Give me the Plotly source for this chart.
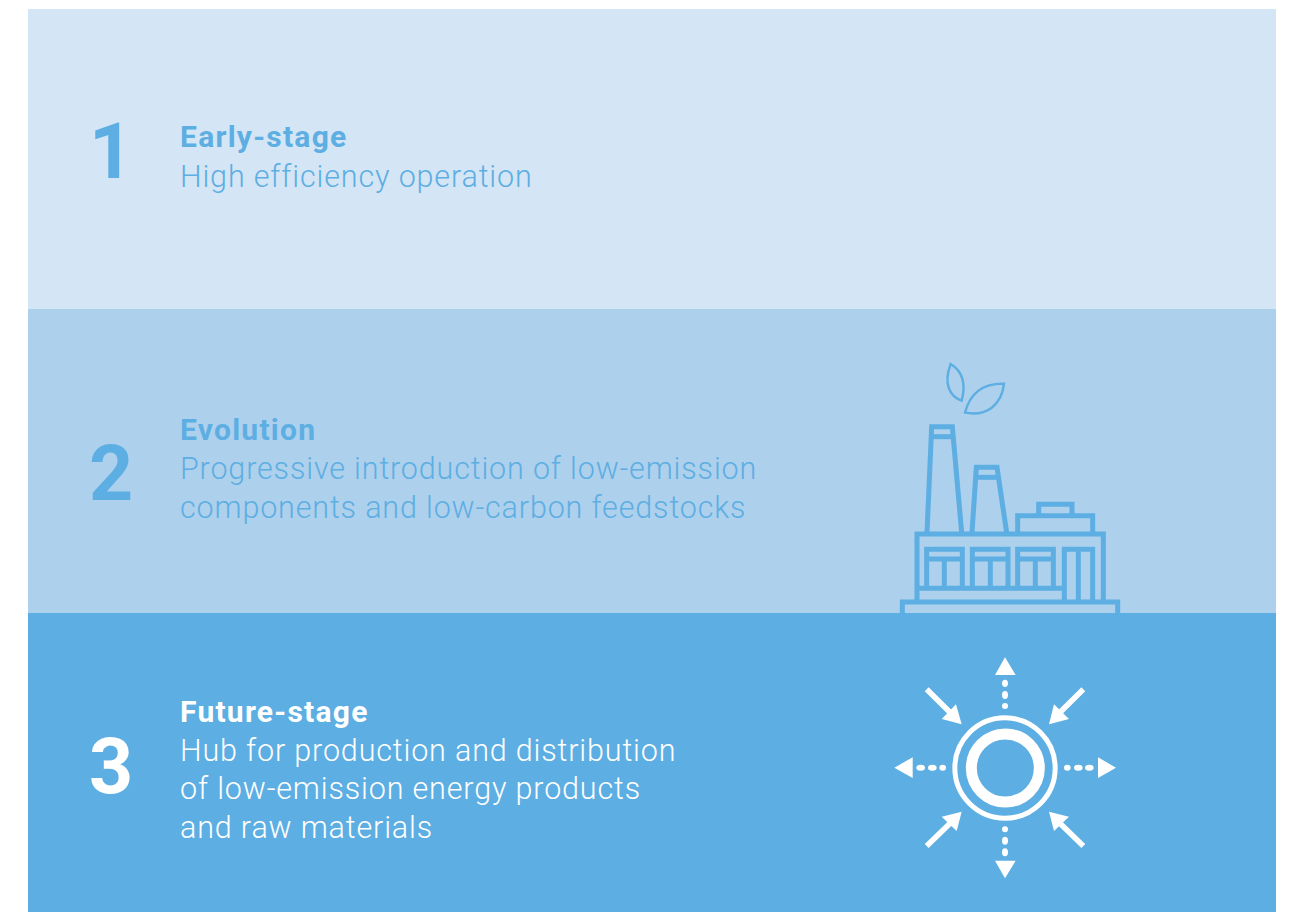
import plotly.graph_objects as go

# ---- content ----
stage_numbers = ["1", "2", "3"]
stage_titles = ["Early-stage", "Evolution", "Future-stage"]
stage_lines = [
    ["High efficiency operation"],
    ["Progressive introduction of low-emission", "components and low-carbon feedstocks"],
    ["Hub for production and distribution", "of low-emission energy products", "and raw materials"],
]

# ---- layout / style ----
BAND_COLORS = ["#D4E5F6", "#ADD0ED", "#5DAEE2"]
INK = ["#5DAEE2", "#5DAEE2", "#FFFFFF"]
BANDS_Y = [(9, 309), (309, 613), (613, 912)]
NUM_Y = [152, 474, 767]
TITLE_Y = [136, 429, 711]
LINE_Y = [[176], [468, 507], [750, 788, 827]]
FONT = "Roboto"

shapes = []
WHITE = "#FFFFFF"
BLUE = "#5DAEE2"


def rect(y0, y1, color):
    shapes.append(dict(type="rect", xref="x", yref="y", x0=28, x1=1276, y0=y0, y1=y1,
                       fillcolor=color, line=dict(width=0), layer="below"))


def f(p):  # factory icon crop -> figure coordinates
    return (880 + p[0] / 3, 350 + p[1] / 3)


def s(p):  # sun icon crop -> figure coordinates
    return (880 + p[0] / 3, 645 + p[1] / 3)


def poly(points, conv, color=None, width=5, fill=None, close=False):
    pts = [conv(p) for p in points]
    d = "M" + " L".join(f"{x:.2f},{y:.2f}" for x, y in pts) + (" Z" if close else "")
    shapes.append(dict(type="path", xref="x", yref="y", path=d,
                       line=dict(color=color, width=width) if color else dict(width=0),
                       fillcolor=fill if fill else "rgba(0,0,0,0)"))


def curve(points, conv, color, width):
    # M p0 C p1 p2 p3 C p4 p5 p6 ... Z
    pts = [conv(p) for p in points]
    d = f"M{pts[0][0]:.2f},{pts[0][1]:.2f}"
    for i in range(1, len(pts), 3):
        d += " C" + " ".join(f"{x:.2f},{y:.2f}" for x, y in pts[i:i + 3])
    shapes.append(dict(type="path", xref="x", yref="y", path=d + " Z",
                       line=dict(color=color, width=width), fillcolor="rgba(0,0,0,0)"))


def ellipse(c, w, h, conv, fill=None, line=None, lw=0):
    x, y = conv(c)
    w, h = w / 3, h / 3
    shapes.append(dict(type="circle", xref="x", yref="y", x0=x - w / 2, x1=x + w / 2,
                       y0=y - h / 2, y1=y + h / 2,
                       fillcolor=fill if fill else "rgba(0,0,0,0)",
                       line=dict(color=line, width=lw) if line else dict(width=0)))


rect(*BANDS_Y[0], BAND_COLORS[0])
rect(*BANDS_Y[1], BAND_COLORS[1])

# factory
for line in [
    [(141, 548), (155, 230), (217, 230), (245, 548)],
    [(155, 260), (217, 260)],
    [(276, 548), (289, 352), (351, 352), (380, 548)],
    [(292, 382), (352, 382)],
    [(413, 548), (413, 497), (638, 497), (638, 548)],
    [(476, 497), (476, 463), (576, 463), (576, 497)],
    [(111, 755), (111, 552), (670, 552), (670, 755)],
    [(111, 715), (553, 715)],
    [(553, 755), (553, 598), (638, 598), (638, 755)],
    [(595, 598), (595, 755)],
    [(67, 795), (67, 756), (713, 756), (713, 795)],
]:
    poly(line, f, BLUE)
for x0, xm, x1 in [(140, 193, 247), (277, 331, 384), (413, 466, 520)]:
    poly([(x0, 715), (x0, 598), (x1, 598), (x1, 715)], f, BLUE)
    poly([(x0, 627), (x1, 627)], f, BLUE)
    poly([(xm, 627), (xm, 715)], f, BLUE)
curve([(212, 42), (238, 58), (262, 88), (245, 152), (212, 140), (188, 105), (212, 42)], f, BLUE, 2.4)
curve([(372, 101), (310, 100), (270, 130), (255, 188), (320, 200), (365, 165), (372, 101)], f, BLUE, 2.4)

rect(*BANDS_Y[2], BAND_COLORS[2])

# hub icon
ellipse((375, 369), 301, 301, s, line=WHITE, lw=5)
ellipse((376, 369), 204, 204, s, line=WHITE, lw=11)
for tri in [
    [(375, 37), (345, 90), (407, 90)],
    [(375, 700), (345, 647), (407, 647)],
    [(43, 368), (98, 337), (98, 399)],
    [(708, 368), (654, 337), (654, 399)],
    [(245, 238), (185, 222), (228, 178)],
    [(507, 238), (567, 222), (522, 178)],
    [(245, 500), (185, 515), (230, 558)],
    [(507, 500), (567, 515), (522, 558)],
]:
    poly(tri, s, fill=WHITE, close=True)
for shaft in [
    [(140, 133), (215, 207)], [(610, 133), (535, 207)],
    [(140, 603), (215, 530)], [(610, 603), (535, 530)],
]:
    poly(shaft, s, WHITE, 5.5)
for y, h in [(115, 22), (150, 24), (183, 18)]:
    ellipse((375, y), 18, h, s, fill=WHITE)
for y, h in [(553, 18), (587, 24), (622, 24)]:
    ellipse((375, y), 18, h, s, fill=WHITE)
for x, w in [(122, 26), (157, 26), (188, 20)]:
    ellipse((x, 368), w, 18, s, fill=WHITE)
for x, w in [(562, 20), (595, 26), (628, 26)]:
    ellipse((x, 368), w, 18, s, fill=WHITE)

# text
ann = []


def text(t, x, y, size, color, weight):
    ann.append(dict(text=t, x=x, y=y, xref="x", yref="y", xanchor="left", yanchor="middle",
                    showarrow=False, align="left",
                    font=dict(family=FONT, size=size, color=color, weight=weight)))


for i in range(3):
    text(stage_numbers[i], 87, NUM_Y[i], 77, INK[i], 700)
    text(stage_titles[i], 178, TITLE_Y[i], 30, INK[i], 700)
    for ln, y in zip(stage_lines[i], LINE_Y[i]):
        text(ln, 178, y, 30.5, INK[i], 300)

fig = go.Figure(go.Scatter(x=[0, 1290], y=[0, 912], mode="markers", marker=dict(opacity=0),
                           hoverinfo="skip", showlegend=False))
fig.update_layout(
    width=1290, height=912, margin=dict(l=0, r=0, t=0, b=0),
    paper_bgcolor="#FFFFFF", plot_bgcolor="#FFFFFF",
    xaxis=dict(range=[0, 1290], visible=False, fixedrange=True),
    yaxis=dict(range=[912, 0], visible=False, fixedrange=True),
    shapes=shapes, annotations=ann, showlegend=False,
)
spacing_js = """
document.body.style.margin='0';document.body.style.overflow='hidden';
document.querySelectorAll('.annotation-text').forEach(function(t){
  var size=parseFloat(t.style.fontSize), w=String(t.style.fontWeight);
  if(size<40){t.style.letterSpacing=(w==='700'||w==='bold')?'1.25px':'0.84px';}
});
"""
fig.write_html("out.html", config=dict(displayModeBar=False), post_script=spacing_js)
